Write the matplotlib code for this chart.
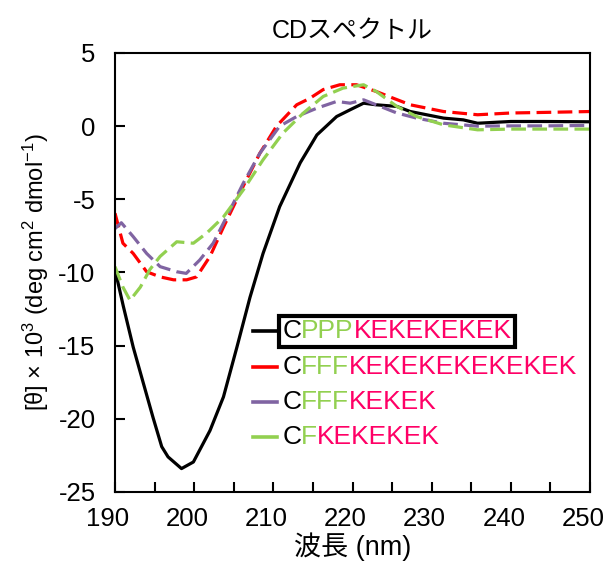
import matplotlib
matplotlib.use("Agg")
import matplotlib.pyplot as plt
import matplotlib.transforms as mtransforms
from matplotlib.offsetbox import (TextArea, HPacker, VPacker, DrawingArea,
                                  AnchoredOffsetbox, PaddedBox)
from matplotlib.lines import Line2D

plt.rcParams['font.family'] = ['Liberation Sans', 'Noto Sans CJK JP', 'DejaVu Sans']
plt.rcParams['axes.unicode_minus'] = False
plt.rcParams['mathtext.fontset'] = 'custom'
plt.rcParams['mathtext.rm'] = 'Liberation Sans'
plt.rcParams['mathtext.it'] = 'Liberation Sans'

# ---- data ----
x_cppp = [190, 191.05, 192.3, 193.6, 194.8, 195.9, 196.7, 198.4, 199.9, 202, 203.7,
          205.4, 207.05, 208.7, 210.8, 213.4, 215.5, 218, 219.7, 221.4, 223, 225.6,
          227.3, 231.5, 234, 235.8, 240, 244.2, 250]
y_cppp = [-9.8, -12.3, -15.1, -17.6, -19.9, -21.9, -22.6, -23.4, -22.95, -20.8, -18.5,
          -15.1, -11.7, -8.7, -5.5, -2.5, -0.6, 0.66, 1.12, 1.57, 1.46, 1.35,
          1.0, 0.55, 0.43, 0.2, 0.32, 0.32, 0.3]

x_fff13 = [190, 191, 192.3, 194, 195.7, 197.4, 199.05, 200.3, 202, 203.7, 206.2, 208.3,
           210.4, 212.95, 214.6, 216.3, 218.4, 220.5, 223, 225.2, 227.3, 231.5, 235.8,
           240, 244.2, 250]
y_fff13 = [-5.95, -8.0, -8.7, -9.95, -10.3, -10.5, -10.5, -10.3, -8.9, -6.9, -4.1, -1.85,
           0.0, 1.46, 1.9, 2.5, 2.83, 2.83, 2.37, 1.9, 1.46, 1.0, 0.78,
           0.9, 0.94, 1.0]

x_fff5 = [190, 190.8, 192.3, 194, 195.7, 197.8, 199, 200.7, 202.4, 204.1, 206.2, 208.3,
          210.8, 212.95, 215.5, 218, 219.7, 221.4, 223, 225.6, 228.1, 231.5, 235.8,
          240, 244.2, 250]
y_fff5 = [-7.0, -6.6, -7.55, -8.7, -9.6, -9.95, -10.06, -9.15, -8.0, -6.2, -3.9, -1.85,
          0.0, 0.66, 1.23, 1.69, 1.57, 1.8, 1.46, 0.9, 0.55, 0.2, 0.0,
          0.02, 0.02, 0.05]

x_f = [190, 191, 191.9, 193.2, 194.4, 195.7, 197.8, 199.9, 201.6, 203.7, 206.2, 208.7,
       211.2, 213.8, 216.3, 218.8, 221.4, 223, 225.6, 228.1, 231.5, 235.8, 240,
       244.2, 250]
y_f = [-9.6, -11.0, -11.9, -11.0, -9.8, -8.9, -7.9, -8.0, -7.3, -6.2, -4.36, -2.3,
       -0.48, 0.9, 2.03, 2.6, 2.83, 2.37, 1.35, 0.66, 0.09, -0.25, -0.2,
       -0.2, -0.2]

labels = [
    [("C", "black"), ("PPP", "#92D050"), ("KEKEKEKEK", "#FF0066")],
    [("C", "black"), ("FFF", "#92D050"), ("KEKEKEKEKEKEK", "#FF0066")],
    [("C", "black"), ("FFF", "#92D050"), ("KEKEK", "#FF0066")],
    [("C", "black"), ("F", "#92D050"), ("KEKEKEK", "#FF0066")],
]
series = [(x_cppp, y_cppp), (x_fff13, y_fff13), (x_fff5, y_fff5), (x_f, y_f)]
colors = ["black", "#FF0000", "#8064A2", "#92D050"]
styles = ["solid", "dashed", "dashed", "dashed"]

x_ticks = [190, 200, 210, 220, 230, 240, 250]
y_ticks = [5, 0, -5, -10, -15, -20, -25]

fig = plt.figure(figsize=(6.08, 5.78), dpi=100)
ax = fig.add_axes([115/608, 1-492/578, 475/608, 439/578])

lw = 2.3
for (xs, ys), c, ls in zip(series, colors, styles):
    line, = ax.plot(xs, ys, color=c, lw=lw, solid_capstyle='butt')
    if ls == "dashed":
        line.set_dashes([4.6, 2.0])

ax.set_xlim(190, 250)
ax.set_ylim(-25, 5)
ax.set_xticks(x_ticks)
ax.set_xticks(list(range(195, 250, 10)), minor=True)
ax.set_yticks(y_ticks)
ax.tick_params(axis='both', which='both', direction='in', width=1.5, labelsize=18.5,
               top=False, right=False)
ax.tick_params(axis='x', which='both', length=7, pad=11)
ax.tick_params(axis='y', which='major', length=7, pad=14)
for s in ax.spines.values():
    s.set_linewidth(1.5)

# x tick labels sit slightly left of their ticks in the reference
shift = mtransforms.ScaledTranslation(-7/100, 0, fig.dpi_scale_trans)
for lab in ax.get_xticklabels():
    lab.set_transform(lab.get_transform() + shift)

ax.set_title("CDスペクトル", fontsize=18, pad=11)
ax.set_xlabel("波長 (nm)", fontsize=19.5, labelpad=1)
ax.set_ylabel(r"[θ] × 10$^{3}$ (deg cm$^{2}$ dmol$^{-1}$)", fontsize=17, labelpad=5)

# ---- legend with multicolored text ----
rows = []
for i, (parts, c, ls) in enumerate(zip(labels, colors, styles)):
    da = DrawingArea(17, 14, 0, 0)
    da.add_artist(Line2D([0, 17], [7, 7], color=c, lw=2.6))
    pieces = [TextArea(t, textprops=dict(color=col, fontsize=19)) for t, col in parts]
    txt = HPacker(children=pieces, sep=0, pad=0, align='baseline')
    if i == 0:
        txt = PaddedBox(txt, pad=2.5, draw_frame=True,
                        patch_attrs=dict(edgecolor='black', linewidth=3, facecolor='none'))
    else:
        txt = PaddedBox(txt, pad=2.5, draw_frame=False)
    rows.append(HPacker(children=[da, txt], sep=1.5, pad=0, align='center'))
box = VPacker(children=rows, sep=3, pad=0, align='left')
anch = AnchoredOffsetbox(loc='upper left', child=box, frameon=False, pad=0, borderpad=0,
                         bbox_to_anchor=(253/608, 1-316/578),
                         bbox_transform=fig.transFigure)
ax.add_artist(anch)

fig.savefig("out.png", dpi=100)
